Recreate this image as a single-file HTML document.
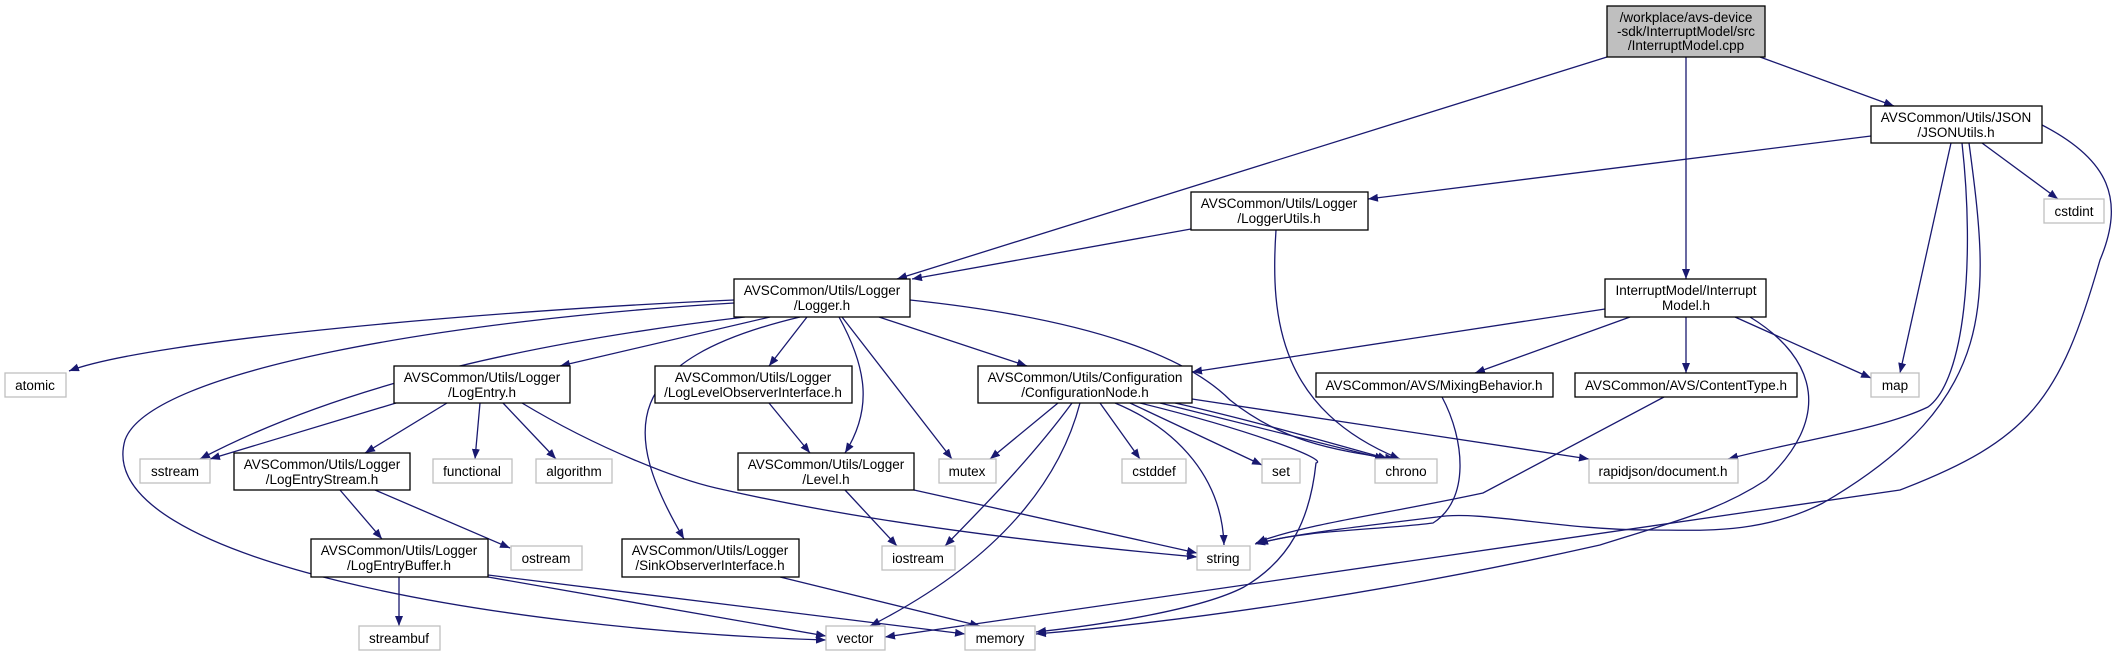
<!DOCTYPE html>
<html><head><meta charset="utf-8"><style>
html,body{margin:0;padding:0;background:#fff;}
svg{display:block;}
text{font-family:"Liberation Sans",Helvetica,Arial,sans-serif;font-size:13.5px;fill:#000;text-anchor:middle;}
.n{fill:#fff;stroke:#000;stroke-width:1.3;}
.g{fill:#fff;stroke:#bfbfbf;stroke-width:1.3;}
.e{fill:none;stroke:#191970;stroke-width:1.3;}
</style></head><body>
<svg width="2127" height="656" viewBox="0 0 2127 656" xmlns="http://www.w3.org/2000/svg">
<defs><marker id="a" viewBox="0 0 10 8" refX="10" refY="4" markerWidth="10" markerHeight="8" markerUnits="userSpaceOnUse" orient="auto"><path d="M0,0L10,4L0,8z" fill="#191970"/></marker></defs>
<g marker-end="url(#a)">
<!-- root -->
<path class="e" d="M1607,57L897,279"/>
<path class="e" d="M1686,57L1686,279"/>
<path class="e" d="M1760,57L1894,106"/>
<!-- JSONUtils -->
<path class="e" d="M1871,136L1368,199"/>
<path class="e" d="M1982,143L2058,199"/>
<path class="e" d="M1951,143L1900,373"/>
<path class="e" d="M1962,143C1975,260 1965,380 1928,407C1880,430 1800,440 1728,459"/>
<path class="e" d="M1969,143C1990,300 2000,400 1823,503C1760,535 1700,530 1650,530C1560,530 1480,510 1437,517C1330,530 1290,535 1255,544"/>
<path class="e" d="M2042,125C2110,160 2125,200 2100,260C2060,400 2030,440 1900,490L885,637"/>
<!-- LoggerUtils -->
<path class="e" d="M1191,229L912,279"/>
<path class="e" d="M1276,230C1270,320 1280,410 1400,459"/>
<!-- Logger.h -->
<path class="e" d="M734,300C500,310 150,340 69,371"/>
<path class="e" d="M734,303C450,320 150,370 125,440C90,560 500,630 826,640"/>
<path class="e" d="M745,317C550,340 350,380 200,459"/>
<path class="e" d="M770,317L560,366"/>
<path class="e" d="M807,317L769,366"/>
<path class="e" d="M839,317C868,370 872,410 845,453"/>
<path class="e" d="M842,317L952,459"/>
<path class="e" d="M800,317C620,360 620,430 684,539"/>
<path class="e" d="M879,317L1027,366"/>
<path class="e" d="M910,300C1100,320 1190,360 1230,400C1280,440 1330,450 1395,459"/>
<!-- LogEntry -->
<path class="e" d="M396,403L210,459"/>
<path class="e" d="M447,403L365,453"/>
<path class="e" d="M480,403L475,459"/>
<path class="e" d="M503,403L556,459"/>
<path class="e" d="M522,403C600,450 680,480 716,488C900,530 1100,548 1197,557"/>
<!-- LogEntryStream -->
<path class="e" d="M340,490L382,539"/>
<path class="e" d="M375,490L510,548"/>
<!-- LogEntryBuffer -->
<path class="e" d="M399,577L399,626"/>
<path class="e" d="M488,577L826,636"/>
<path class="e" d="M488,575L965,634"/>
<path class="e" d="M780,577L980,626"/>
<!-- Level -->
<path class="e" d="M845,490L897,546"/>
<path class="e" d="M914,490L1197,553"/>
<path class="e" d="M769,403L810,453"/>
<!-- ConfigurationNode -->
<path class="e" d="M1058,403L990,459"/>
<path class="e" d="M1072,403C1030,460 980,510 945,546"/>
<path class="e" d="M1080,403C1060,480 1000,560 870,626"/>
<path class="e" d="M1100,403L1140,459"/>
<path class="e" d="M1115,403C1180,430 1222,480 1224,545"/>
<path class="e" d="M1130,403L1262,465"/>
<path class="e" d="M1160,403L1385,459"/>
<path class="e" d="M1175,403C1250,420 1320,440 1388,459"/>
<path class="e" d="M1140,403C1250,430 1330,460 1316,463C1310,520 1290,560 1244,587C1200,610 1100,625 1036,632"/>
<path class="e" d="M1192,399L1589,459"/>
<!-- InterruptModel.h -->
<path class="e" d="M1605,309L1192,372"/>
<path class="e" d="M1630,317L1475,373"/>
<path class="e" d="M1686,317L1686,373"/>
<path class="e" d="M1735,317L1871,378"/>
<path class="e" d="M1750,317C1820,360 1830,420 1766,480C1720,510 1680,520 1600,545C1400,590 1200,620 1036,634"/>
<!-- Mixing / ContentType -->
<path class="e" d="M1442,397C1465,440 1470,500 1433,523C1380,530 1300,530 1258,544"/>
<path class="e" d="M1664,397L1483,493C1380,515 1300,525 1256,543"/>
</g>
<!-- nodes -->
<rect x="1607" y="6" width="158" height="51" fill="#bfbfbf" stroke="#000" stroke-width="1.3"/>
<text x="1686" y="22">/workplace/avs-device</text><text x="1686" y="36">-sdk/InterruptModel/src</text><text x="1686" y="50">/InterruptModel.cpp</text>

<rect class="n" x="1871" y="106" width="171" height="37"/><text x="1956" y="122">AVSCommon/Utils/JSON</text><text x="1956" y="137">/JSONUtils.h</text>
<rect class="n" x="1191" y="192" width="177" height="38"/><text x="1279" y="208">AVSCommon/Utils/Logger</text><text x="1279" y="223">/LoggerUtils.h</text>
<rect class="g" x="2044" y="199" width="60" height="24"/><text x="2074" y="216">cstdint</text>
<rect class="n" x="734" y="279" width="176" height="38"/><text x="822" y="295">AVSCommon/Utils/Logger</text><text x="822" y="310">/Logger.h</text>
<rect class="n" x="1605" y="279" width="161" height="38"/><text x="1686" y="295">InterruptModel/Interrupt</text><text x="1686" y="310">Model.h</text>

<rect class="g" x="5" y="373" width="61" height="24"/><text x="35" y="390">atomic</text>
<rect class="n" x="394" y="366" width="176" height="37"/><text x="482" y="382">AVSCommon/Utils/Logger</text><text x="482" y="397">/LogEntry.h</text>
<rect class="n" x="655" y="366" width="197" height="37"/><text x="753" y="382">AVSCommon/Utils/Logger</text><text x="753" y="397">/LogLevelObserverInterface.h</text>
<rect class="n" x="978" y="366" width="214" height="37"/><text x="1085" y="382">AVSCommon/Utils/Configuration</text><text x="1085" y="397">/ConfigurationNode.h</text>
<rect class="n" x="1316" y="373" width="237" height="24"/><text x="1434" y="390">AVSCommon/AVS/MixingBehavior.h</text>
<rect class="n" x="1575" y="373" width="222" height="24"/><text x="1686" y="390">AVSCommon/AVS/ContentType.h</text>
<rect class="g" x="1871" y="373" width="48" height="24"/><text x="1895" y="390">map</text>

<rect class="g" x="140" y="459" width="70" height="24"/><text x="175" y="476">sstream</text>
<rect class="n" x="234" y="453" width="176" height="37"/><text x="322" y="469">AVSCommon/Utils/Logger</text><text x="322" y="484">/LogEntryStream.h</text>
<rect class="g" x="433" y="459" width="79" height="24"/><text x="472" y="476">functional</text>
<rect class="g" x="536" y="459" width="76" height="24"/><text x="574" y="476">algorithm</text>
<rect class="n" x="738" y="453" width="176" height="37"/><text x="826" y="469">AVSCommon/Utils/Logger</text><text x="826" y="484">/Level.h</text>
<rect class="g" x="939" y="459" width="57" height="24"/><text x="967" y="476">mutex</text>
<rect class="g" x="1122" y="459" width="64" height="24"/><text x="1154" y="476">cstddef</text>
<rect class="g" x="1262" y="459" width="38" height="24"/><text x="1281" y="476">set</text>
<rect class="g" x="1375" y="459" width="62" height="24"/><text x="1406" y="476">chrono</text>
<rect class="g" x="1589" y="459" width="149" height="24"/><text x="1663" y="476">rapidjson/document.h</text>

<rect class="n" x="311" y="539" width="177" height="38"/><text x="399" y="555">AVSCommon/Utils/Logger</text><text x="399" y="570">/LogEntryBuffer.h</text>
<rect class="g" x="511" y="546" width="71" height="24"/><text x="546" y="563">ostream</text>
<rect class="n" x="622" y="539" width="177" height="38"/><text x="710" y="555">AVSCommon/Utils/Logger</text><text x="710" y="570">/SinkObserverInterface.h</text>
<rect class="g" x="882" y="546" width="73" height="24"/><text x="918" y="563">iostream</text>
<rect class="g" x="1197" y="546" width="53" height="24"/><text x="1223" y="563">string</text>

<rect class="g" x="359" y="626" width="81" height="24"/><text x="399" y="643">streambuf</text>
<rect class="g" x="826" y="626" width="59" height="24"/><text x="855" y="643">vector</text>
<rect class="g" x="965" y="626" width="70" height="24"/><text x="1000" y="643">memory</text>
</svg>
</body></html>
